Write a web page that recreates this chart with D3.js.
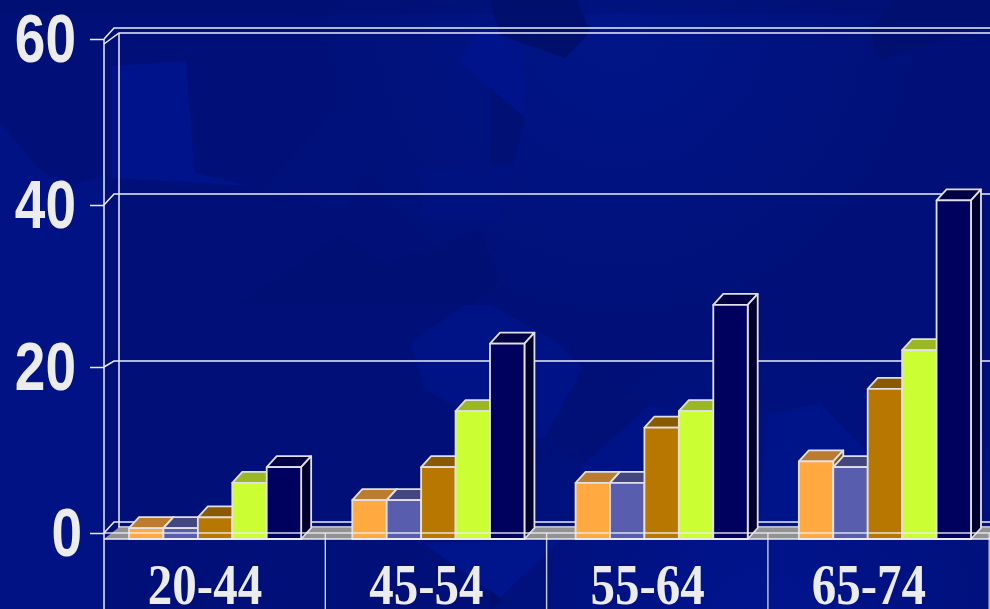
<!DOCTYPE html>
<html>
<head>
<meta charset="utf-8">
<script src="https://cdn.jsdelivr.net/npm/d3@7"></script>
<style>
  html, body { margin: 0; padding: 0; background: #001079; overflow: hidden; }
</style>
</head>
<body>
<div id="chart"></div>
<script>
// values
const categories = ["20-44", "45-54", "55-64", "65-74"];
const series1 = [0.6, 4, 6.1, 8.7];
const series2 = [0.6, 4, 6.1, 8];
const series3 = [1.9, 8, 12.8, 17.5];
const series4 = [6.1, 14.8, 14.8, 22.2];
const series5 = [8, 23, 27.7, 40.4];
const yTicks = [0, 20, 40, 60];

const allSeries = [series1, series2, series3, series4, series5];
const frontColors = ["#ffa940", "#585dad", "#b87800", "#ccff33", "#00005f"];
const topColors = ["#bb7c30", "#44467f", "#8a5a00", "#99b824", "#000042"];
const sideColors = ["#7f5400", "#33335f", "#5f3f00", "#77901c", "#00002f"];

const width = 990, height = 609;
const line = "#ecedf2";
const depth = {x: 10, y: 11};      // bar depth
const left = 104, right = 990, floorY = 539;

const svg = d3.select("#chart").append("svg")
    .attr("width", width)
    .attr("height", height)
    .style("display", "block");

// background, dark blue with soft tilted patches
const defs = svg.append("defs");
const glow1 = defs.append("radialGradient").attr("id", "glow1").attr("gradientUnits", "userSpaceOnUse")
    .attr("cx", 620).attr("cy", 20).attr("r", 320);
glow1.append("stop").attr("offset", "0").attr("stop-color", "#001588");
glow1.append("stop").attr("offset", "1").attr("stop-color", "#001588").attr("stop-opacity", 0);
const glow2 = defs.append("radialGradient").attr("id", "glow2").attr("gradientUnits", "userSpaceOnUse")
    .attr("cx", 760).attr("cy", 620).attr("r", 300);
glow2.append("stop").attr("offset", "0").attr("stop-color", "#00148e");
glow2.append("stop").attr("offset", "1").attr("stop-color", "#00148e").attr("stop-opacity", 0);

svg.append("rect").attr("width", width).attr("height", height).attr("fill", "#001078");
svg.append("rect").attr("width", width).attr("height", height).attr("fill", "url(#glow1)");
svg.append("rect").attr("width", width).attr("height", height).attr("fill", "url(#glow2)");

const patches = [
  {pts: "0,0 990,0 990,14 0,14", c: "#000e6c", o: 0.35},
  {pts: "0,122 42,172 75,184 105,175 105,609 0,609", c: "#001284", o: 1},
  {pts: "112,66 186,61 195,173 250,186 112,178", c: "#00138a", o: 1},
  {pts: "337,108 385,140 345,210 260,190", c: "#00117c", o: 1},
  {pts: "459,60 480,30 520,30 525,118 490,88", c: "#00138a", o: 1},
  {pts: "490,0 577,0 590,32 565,58 500,35", c: "#000f6c", o: 1},
  {pts: "490,88 525,118 513,163 490,163", c: "#001074", o: 1},
  {pts: "895,0 990,0 990,25 880,60 870,30", c: "#000f70", o: 1},
  {pts: "422,169 513,163 500,222 422,218", c: "#00127f", o: 1},
  {pts: "340,235 385,265 480,230 500,280 470,305 240,305", c: "#000f73", o: 1},
  {pts: "410,343 465,305 490,305 555,340 583,368 545,438 490,430 425,388", c: "#001386", o: 1},
  {pts: "545,438 583,368 650,405 583,465", c: "#001076", o: 1},
  {pts: "650,405 583,465 575,530 720,530 720,430", c: "#001386", o: 1},
  {pts: "768,415 820,403 865,450 865,530 760,530", c: "#00148a", o: 1},
  {pts: "423,543 500,598 560,540", c: "#00148c", o: 1},
  {pts: "490,590 503,600 490,609", c: "#000f6c", o: 1}
];
svg.append("g").selectAll("polygon")
  .data(patches)
  .join("polygon")
    .attr("points", d => d.pts)
    .attr("fill", d => d.c)
    .attr("fill-opacity", d => d.o);

// scales, bars sink a little below zero into the floor edge
const y = d3.scaleLinear().domain([0, 60]).range([533, 39]);
// ticks and back wall lines are not quite evenly spaced in the picture
const yTickPos = d3.scaleLinear().domain(yTicks).range([533, 367, 205, 39]);
const yBack = d3.scaleLinear().domain(yTicks).range([522, 361, 194, 28]);
const x0 = d3.scaleBand().domain(categories).range([104, 996])
    .paddingInner(0.229).paddingOuter(0.112);
const x1 = d3.scaleBand().domain(d3.range(allSeries.length)).range([0, x0.bandwidth()]);
const xTable = d3.scaleBand().domain(categories).range([104, 989.2]);

// walls and gridlines
const grid = svg.append("g").attr("fill", "none").attr("stroke", line).attr("stroke-width", 1.5);
grid.selectAll("path.gridline")
  .data(yTicks)
  .join("path")
    .attr("class", "gridline")
    .attr("d", d => `M${left},${yTickPos(d)}L${left + 10},${yBack(d)}H${right}`);
// inner top edge and back corner of the wall
grid.append("path").attr("d", `M${left},${y(60) + 5}L${left + 15},${y(60) - 6}H${right}`);
grid.append("path").attr("d", `M${left + 15},${y(60) - 6}V${y(0) - 6}`);
grid.append("path").attr("d", `M${left},${y(60)}V${height}`);
grid.append("path").attr("d", `M${left + 14},${y(0) - 6}H${right}`);

// grey floor
svg.append("path")
    .attr("d", `M${left},${floorY}L${left + 14},${y(0) - 5}H${right}V${floorY}Z`)
    .attr("fill", "#929292");

// y axis
const yAxis = d3.axisLeft(yTickPos).tickValues(yTicks).tickSize(14).tickFormat(d3.format("d"));
const axisG = svg.append("g").attr("transform", `translate(${left},0)`).call(yAxis);
axisG.select(".domain").remove();
axisG.selectAll(".tick line").attr("stroke", line).attr("stroke-width", 1.5);
axisG.selectAll(".tick text").remove();
axisG.selectAll(".tick").append("text")
    .attr("transform", d => `translate(${d === 0 ? -22 : -28},22) scale(1,1.24)`)
    .attr("text-anchor", "end")
    .attr("fill", "#ececec")
    .style("font-family", "'Liberation Sans', Arial, sans-serif")
    .style("font-weight", "bold")
    .style("font-size", "55px")
    .text(d => d);

// table rules under the bars
svg.append("g").selectAll("line")
  .data(categories.map(d => xTable(d) + xTable.step()))
  .join("line")
    .attr("x1", d => d).attr("x2", d => d)
    .attr("y1", y(0)).attr("y2", height)
    .attr("stroke", line).attr("stroke-opacity", 0.85).attr("stroke-width", 1.4);

// bars, one group per category, drawn left to right so each one covers the last side face
const groups = svg.append("g").selectAll("g")
  .data(categories)
  .join("g")
    .attr("transform", d => `translate(${x0(d)},0)`);

const bars = groups.selectAll("g")
  .data((d, i) => allSeries.map((s, k) => ({k: k, v: s[i]})))
  .join("g")
    .attr("stroke", "#e0e0e6")
    .attr("stroke-width", 1.8)
    .attr("stroke-linejoin", "round");

const bw = x1.bandwidth();
bars.append("path")
    .attr("fill", d => topColors[d.k])
    .attr("d", d => `M${x1(d.k)},${y(d.v)}l${depth.x},${-depth.y}h${bw}l${-depth.x},${depth.y}Z`);
bars.append("path")
    .attr("fill", d => sideColors[d.k])
    .attr("d", d => `M${x1(d.k) + bw},${y(d.v)}l${depth.x},${-depth.y}V${floorY - depth.y}l${-depth.x},${depth.y}Z`);
bars.append("rect")
    .attr("x", d => x1(d.k))
    .attr("y", d => y(d.v))
    .attr("width", bw)
    .attr("height", d => floorY - y(d.v))
    .attr("fill", d => frontColors[d.k]);

// zero line running over the bars, and the floor edge
svg.append("line").attr("x1", left).attr("x2", right)
    .attr("y1", y(0)).attr("y2", y(0))
    .attr("stroke", line).attr("stroke-opacity", 0.9).attr("stroke-width", 1.5);
svg.append("line").attr("x1", left).attr("x2", right)
    .attr("y1", floorY).attr("y2", floorY)
    .attr("stroke", line).attr("stroke-width", 1.5);

// category labels
svg.append("g").selectAll("text")
  .data(categories)
  .join("text")
    .attr("transform", d => `translate(${xTable(d) + 101},604) scale(1,1.17)`)
    .attr("text-anchor", "middle")
    .attr("fill", "#ececec")
    .style("font-family", "'Liberation Serif', 'Times New Roman', serif")
    .style("font-weight", "bold")
    .style("font-size", "49px")
    .text(d => d);
</script>
</body>
</html>
